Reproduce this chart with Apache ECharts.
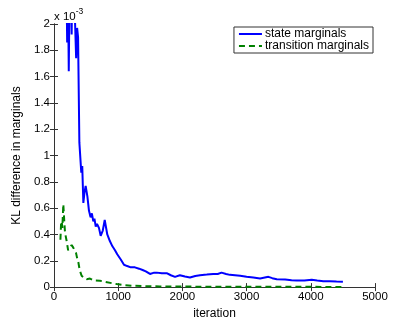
<!DOCTYPE html>
<html>
<head>
<meta charset="utf-8">
<script src="https://cdn.jsdelivr.net/npm/echarts@6/dist/echarts.min.js"></script>
<style>
  html, body { margin: 0; padding: 0; background: #fff; }
  #chart { width: 415px; height: 325px; }
</style>
</head>
<body>
<div id="chart"></div>
<script>
// values in units of 1e-3
const stateIter = [190, 205, 215, 230, 245, 265, 275, 285, 310, 345, 360, 375, 395, 425, 440, 457, 475, 493, 520, 545, 570, 590, 612, 630, 650, 670, 700, 727, 760, 790, 830, 870, 910, 950, 985, 1040, 1090, 1140, 1195, 1260, 1325, 1380, 1430, 1495, 1560, 1600, 1680, 1755, 1820, 1885, 1960, 2040, 2118, 2200, 2275, 2380, 2480, 2550, 2610, 2680, 2740, 2820, 2900, 3000, 3105, 3210, 3340, 3400, 3470, 3600, 3700, 3780, 3900, 4015, 4100, 4195, 4300, 4400, 4500]
const stateKL = [2.5, 1.86, 2.4, 1.64, 2.4, 2.3, 1.92, 2.4, 2.3, 1.74, 1.97, 1.9, 1.1, 0.87, 0.92, 0.64, 0.72, 0.77, 0.69, 0.58, 0.53, 0.56, 0.50, 0.52, 0.46, 0.48, 0.45, 0.39, 0.43, 0.51, 0.40, 0.35, 0.31, 0.28, 0.25, 0.21, 0.17, 0.16, 0.15, 0.15, 0.14, 0.13, 0.12, 0.10, 0.11, 0.11, 0.105, 0.106, 0.09, 0.078, 0.09, 0.08, 0.073, 0.085, 0.09, 0.095, 0.10, 0.10, 0.11, 0.10, 0.093, 0.09, 0.086, 0.078, 0.073, 0.066, 0.078, 0.068, 0.06, 0.058, 0.052, 0.05, 0.05, 0.055, 0.05, 0.045, 0.045, 0.042, 0.04]

const transIter = [100, 110, 120, 130, 145, 160, 171, 185, 197, 220, 250, 275, 300, 320, 343, 360, 379, 400, 430, 470, 509, 560, 620, 716, 800, 900, 976, 1100, 1232, 1400, 1650, 2000, 2500, 3000, 3500, 4000, 4500]
const transKL = [0.36, 0.48, 0.50, 0.45, 0.63, 0.50, 0.42, 0.38, 0.35, 0.28, 0.29, 0.32, 0.30, 0.28, 0.26, 0.22, 0.19, 0.13, 0.086, 0.07, 0.06, 0.065, 0.05, 0.048, 0.04, 0.03, 0.023, 0.015, 0.01, 0.007, 0.005, 0.004, 0.003, 0.003, 0.002, 0.002, 0.001]

const seriesNames = ['state marginals', 'transition marginals']

const font = 'Liberation Sans, Arial, sans-serif'
const axisColor = '#333'

const chart = echarts.init(document.getElementById('chart'))

const zip = (xs, ys) => xs.map((x, i) => [x, ys[i]])

chart.setOption({
  animation: false,
  grid: { left: 54, right: 40, top: 24, bottom: 37 },
  textStyle: { fontFamily: font },
  legend: {
    data: seriesNames,
    right: 42,
    top: 27,
    orient: 'vertical',
    itemGap: 0,
    itemWidth: 23,
    itemHeight: 10,
    padding: [1, 4, 1, 4],
    backgroundColor: '#fff',
    borderColor: '#333',
    borderWidth: 1,
    borderRadius: 0,
    itemStyle: { color: 'transparent', borderColor: 'transparent', borderWidth: 0 },
    textStyle: { fontSize: 12, color: '#000', fontFamily: font, padding: [0, 0, 0, -2] }
  },
  graphic: [{
    type: 'text',
    left: 54,
    top: 7,
    style: {
      text: '{a|x 10}{b|-3}',
      rich: {
        a: { fontSize: 11.5, fontFamily: font, fill: '#000', padding: [6, 0, 0, 0] },
        b: { fontSize: 8.5, fontFamily: font, fill: '#000', padding: [0, 0, 4, 0] }
      }
    }
  }],
  xAxis: [{
    type: 'value',
    min: 0,
    max: 5000,
    interval: 1000,
    name: 'iteration',
    nameLocation: 'middle',
    nameGap: 17,
    nameTextStyle: { fontSize: 12, color: '#000' },
    axisLine: { lineStyle: { color: axisColor } },
    axisTick: { inside: true, length: 4, lineStyle: { color: axisColor } },
    axisLabel: { fontSize: 11.5, color: '#000', margin: 4, formatter: v => String(v) },
    splitLine: { show: false }
  }, {
    type: 'value',
    position: 'top',
    min: 0,
    max: 5000,
    interval: 1000,
    axisLine: { show: true, lineStyle: { color: axisColor } },
    axisTick: { inside: true, length: 4, lineStyle: { color: axisColor } },
    axisLabel: { show: false },
    splitLine: { show: false }
  }],
  yAxis: [{
    type: 'value',
    min: 0,
    max: 2,
    interval: 0.2,
    name: 'KL difference in marginals',
    nameLocation: 'middle',
    nameGap: 28,
    nameTextStyle: { fontSize: 12, color: '#000' },
    axisLine: { show: true, lineStyle: { color: axisColor } },
    axisTick: { show: true, inside: true, length: 4, lineStyle: { color: axisColor } },
    axisLabel: {
      fontSize: 11.5,
      color: '#000',
      margin: 4,
      formatter: v => String(Math.round(v * 10) / 10)
    },
    splitLine: { show: false }
  }, {
    type: 'value',
    position: 'right',
    min: 0,
    max: 2,
    interval: 0.2,
    axisLine: { show: true, lineStyle: { color: axisColor } },
    axisTick: { show: true, inside: true, length: 4, lineStyle: { color: axisColor } },
    axisLabel: { show: false },
    splitLine: { show: false }
  }],
  series: [{
    name: seriesNames[0],
    type: 'line',
    data: zip(stateIter, stateKL),
    showSymbol: false,
    symbol: 'none',
    clip: true,
    color: '#0000ff',
    lineStyle: { color: '#0000ff', width: 2 }
  }, {
    name: seriesNames[1],
    type: 'line',
    data: zip(transIter, transKL),
    showSymbol: false,
    symbol: 'none',
    clip: true,
    color: '#008000',
    lineStyle: { color: '#008000', width: 2, type: [6, 4] }
  }]
})
</script>
</body>
</html>
